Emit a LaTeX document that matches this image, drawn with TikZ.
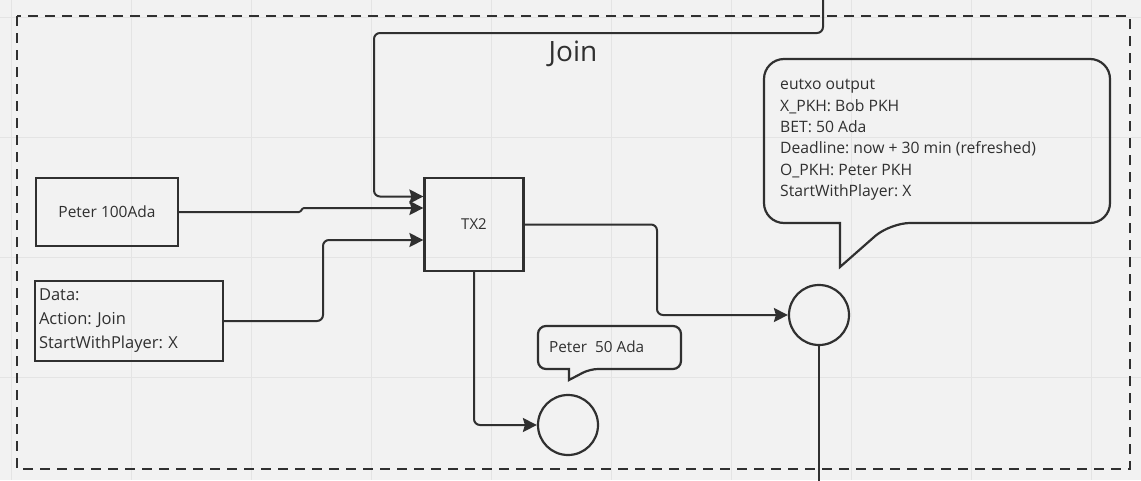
\documentclass[tikz,border=0pt]{standalone}
\usepackage{fontspec}
\setmainfont{Open Sans}
\usetikzlibrary{arrows.meta}
\definecolor{ink}{HTML}{303030}
\definecolor{paper}{HTML}{F2F2F2}
\definecolor{gridline}{HTML}{E4E4E4}
\frenchspacing

\begin{document}
\begin{tikzpicture}[x=1pt,y=-1pt,
  box/.style={draw=ink,line width=2.2pt,text=ink,inner sep=0pt,font=\fontsize{15.5}{18}\selectfont},
  utxo/.style={draw=ink,line width=2.2pt,circle,minimum size=60pt,inner sep=0pt},
  wire/.style={draw=ink,line width=2pt,rounded corners=6pt},
  conn/.style={wire,-{Stealth[length=14pt,width=14pt,inset=2pt]}},
  note/.style={text=ink,inner sep=0pt,anchor=west,align=left}]
\fill[paper] (0,0) rectangle (1141,480);
\useasboundingbox (0,0) rectangle (1141,480);
\foreach \x in {11,131,...,1091} {
  \draw[gridline,line width=1pt] (\x,0) -- (\x,480);
}
\foreach \y in {17,137,257,377} {
  \draw[gridline,line width=1pt] (0,\y) -- (1141,\y);
}
\draw[ink,line width=2.5pt,dash pattern=on 10pt off 7pt] (17,16) rectangle (1130,469);
\node[text=ink,font=\fontsize{28}{34}\selectfont] (title) at (573,54) {Join};

% inputs and transaction
\node[box,minimum width=142pt,minimum height=68pt] (peter) at (107,212) {Peter 100Ada};
\node[box,minimum width=188pt,minimum height=80pt,text width=180pt,align=left,
  font=\fontsize{16.5}{24}\selectfont] (data) at (129,321) {Data:\\Action: Join\\StartWithPlayer: X};
\node[box,minimum width=99pt,minimum height=93pt,font=\fontsize{15}{18}\selectfont] (tx) at (474,224.5) {TX2};

% outputs
\node[utxo] (out1) at (819,315) {};
\node[utxo] (out2) at (568,425) {};

% callouts
\draw[ink,line width=2.2pt] (840,267) -- (840,223) -- (800,223) [rounded corners=20pt] -- (764,223)
  -- (764,59) -- (1110,59) -- (1110,223) -- (890,223) [sharp corners] -- cycle;
\node[note,font=\fontsize{15.7}{21.4}\selectfont] (datum) at (780,140)
  {eutxo output\\X\_PKH: Bob PKH\\BET: 50 Ada\\Deadline: now + 30 min (refreshed)\\O\_PKH: Peter PKH\\StartWithPlayer: X};
\draw[ink,line width=2.2pt] (569,380) -- (569,369) -- (555,369) [rounded corners=8pt] -- (538,369)
  -- (538,326) -- (681,326) -- (681,369) -- (590,369) [sharp corners] -- cycle;
\node[note,font=\fontsize{15.3}{18}\selectfont] (change) at (549,347) {Peter~~50 Ada};

% connectors
\coordinate (script) at (823,-2);
\coordinate (next) at (819,482);
\draw[conn] (script) -- (823,33) -- (374,33) |- ([yshift=28pt]tx.west);
\draw[conn,rounded corners=1pt] (peter.east) -- (300,212) -- (303,208) -- ([yshift=16.5pt]tx.west);
\draw[conn] (data.east) -- (323,321) -- (323,240) -- ([yshift=-15.5pt]tx.west);
\draw[conn] (tx.east) -- (657,224.5) |- (out1.west);
\draw[conn] (tx.south) |- (out2.west);
\draw[wire] (out1.south) -- (next);
\end{tikzpicture}
\end{document}
